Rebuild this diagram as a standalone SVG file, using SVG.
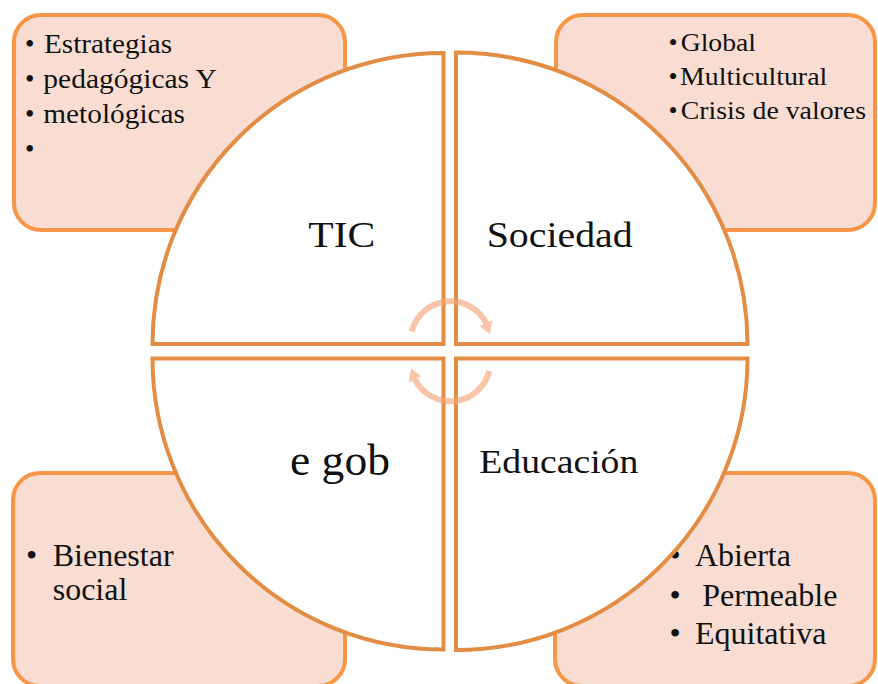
<svg xmlns="http://www.w3.org/2000/svg" width="878" height="684" viewBox="0 0 878 684">
<style>
.box{fill:#F9DDD2;stroke:#F79646;stroke-width:4}
.quad{fill:#FFFFFF;stroke:#E38C43;stroke-width:4;stroke-linejoin:miter}
.t{font-family:'Liberation Serif','Times New Roman',serif;fill:#111111}
.arc{fill:none;stroke:#F6A77B;stroke-width:6}
.head{fill:#F6A77B}
</style>
<rect width="878" height="684" fill="#FFFFFF"/>
<g id="box-tl">
<rect class="box" x="14" y="15" width="331" height="215" rx="27"/>
<g class="t" font-family="Liberation Serif, serif" font-size="27">
<text x="25" y="53">•</text><text x="44" y="53" textLength="128" lengthAdjust="spacingAndGlyphs">Estrategias</text>
<text x="25" y="88.3">•</text><text x="43.3" y="88.3" textLength="173.4" lengthAdjust="spacingAndGlyphs">pedagógicas Y</text>
<text x="25" y="123.3">•</text><text x="43.3" y="123.3" textLength="141.7" lengthAdjust="spacingAndGlyphs">metológicas</text>
<text x="25" y="157.5">•</text>
</g>
</g>
<g id="box-tr">
<rect class="box" x="556" y="15" width="319" height="215" rx="27"/>
<g class="t" font-family="Liberation Serif, serif" font-size="26">
<text x="668.5" y="50.7">•</text><text x="680.7" y="50.7" textLength="75.3" lengthAdjust="spacingAndGlyphs">Global</text>
<text x="668.5" y="85">•</text><text x="680" y="85" textLength="147.3" lengthAdjust="spacingAndGlyphs">Multicultural</text>
<text x="668.5" y="119">•</text><text x="680.7" y="119" textLength="185.3" lengthAdjust="spacingAndGlyphs">Crisis de valores</text>
</g>
</g>
<g id="box-bl">
<rect class="box" x="13" y="473" width="332" height="213" rx="27"/>
<g class="t" font-family="Liberation Serif, serif" font-size="32">
<text x="26" y="566">•</text><text x="52.7" y="566">Bienestar</text>
<text x="52.7" y="599.5">social</text>
</g>
</g>
<g id="box-br">
<rect class="box" x="555" y="473" width="320" height="213" rx="27"/>
<g class="t" font-family="Liberation Serif, serif" font-size="32">
<text x="669.4" y="566">•</text><text x="695" y="566">Abierta</text>
<text x="669.4" y="605.7">•</text><text x="702.3" y="605.7">Permeable</text>
<text x="669.4" y="644.3">•</text><text x="695" y="644.3">Equitativa</text>
</g>
</g>
<g id="quad-tic">
<path class="quad" d="M443.5,344 H152.5 A291,291 0 0 1 443.5,53 Z"/>
<text class="t" font-family="Liberation Serif, serif" x="308.3" y="246.7" font-size="36" textLength="67" lengthAdjust="spacingAndGlyphs">TIC</text>
</g>
<g id="quad-sociedad">
<path class="quad" d="M456,344 V52.5 A291.5,291.5 0 0 1 747.5,344 Z"/>
<text class="t" font-family="Liberation Serif, serif" x="486.7" y="246.7" font-size="36" textLength="146" lengthAdjust="spacingAndGlyphs">Sociedad</text>
</g>
<g id="quad-egob">
<path class="quad" d="M443.5,358.5 V649.5 A291,291 0 0 1 152.5,358.5 Z"/>
<text class="t" font-family="Liberation Serif, serif" x="290" y="475" font-size="45" textLength="100" lengthAdjust="spacingAndGlyphs">e gob</text>
</g>
<g id="quad-educacion">
<path class="quad" d="M456,358.5 H747.5 A291.5,291.5 0 0 1 456,650 Z"/>
<text class="t" font-family="Liberation Serif, serif" x="479.3" y="473.3" font-size="34" textLength="159" lengthAdjust="spacingAndGlyphs">Educación</text>
</g>
<g id="connectors" opacity="0.65">
<g id="arrow-top">
<path class="arc" d="M411.7,331.6 A40,40 0 0 1 486.45,323.76"/>
<polygon class="head" points="479.9,326.3 492.4,320 489.9,334.3"/>
</g>
<g id="arrow-bottom" transform="rotate(180 450.5 351.25)">
<path class="arc" d="M411.7,331.6 A40,40 0 0 1 486.45,323.76"/>
<polygon class="head" points="479.9,326.3 492.4,320 489.9,334.3"/>
</g>
</g>
</svg>
